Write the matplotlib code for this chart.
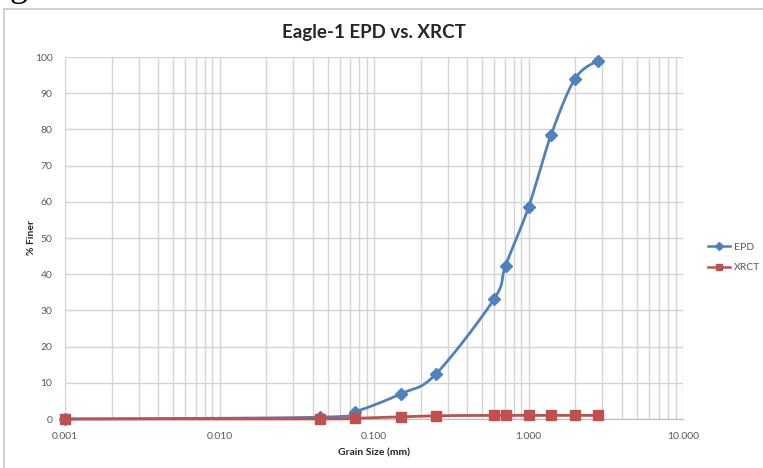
import numpy as np
import matplotlib
matplotlib.use("Agg")
import matplotlib.pyplot as plt
from matplotlib.patches import Rectangle
from matplotlib.lines import Line2D

plt.rcParams['font.family'] = ['Lato', 'DejaVu Sans']

# Sieve sizes (mm) and percent finer
grain_size = [0.001, 0.045, 0.075, 0.15, 0.25, 0.6, 0.71, 1.0, 1.4, 2.0, 2.8]
epd = [0.0, 0.5, 2.0, 7.0, 12.3, 33.2, 42.4, 58.5, 78.5, 94.0, 99.0]
xrct = [0.0, 0.0, 0.2, 0.6, 0.9, 1.0, 1.0, 1.0, 1.0, 1.0, 1.0]

x_ticks = [0.001, 0.01, 0.1, 1, 10]
x_tick_labels = ["0.001", "0.010", "0.100", "1.000", "10.000"]
y_ticks = list(range(0, 101, 10))

blue = "#4F81BD"
red = "#C0504D"
grid_c = "#D4D4D4"
text_c = "#595959"

fig = plt.figure(figsize=(7.63, 4.68), dpi=100)
ax = fig.add_axes([0.0852, 0.1047, 0.8100, 0.7735])

# outer chart frame
fig.patches.append(Rectangle((4 / 763, -0.05), 1.2, (468 - 9) / 468 + 0.05,
                             transform=fig.transFigure, fill=False,
                             edgecolor="#C8C8C8", linewidth=1.2))
fig.text(0.012, 1.0 + 4 / 468, "g", fontsize=26, family="Liberation Serif",
         ha="left", va="baseline", color="black")

ax.set_xscale("log")
ax.set_xlim(0.001, 10)
ax.set_ylim(0, 100)
ax.set_xticks(x_ticks)
ax.set_xticklabels(x_tick_labels)
ax.set_yticks(y_ticks)
ax.tick_params(axis="both", length=0, labelsize=7.5, colors=text_c)
ax.tick_params(axis="y", pad=9)
ax.tick_params(axis="x", pad=9)
ax.tick_params(axis="x", which="minor", length=0)
ax.xaxis.set_minor_locator(matplotlib.ticker.LogLocator(base=10, subs=np.arange(2, 10)))
ax.xaxis.set_minor_formatter(matplotlib.ticker.NullFormatter())
ax.grid(True, which="major", axis="both", color=grid_c, linewidth=1.0)
ax.grid(True, which="minor", axis="x", color=grid_c, linewidth=1.0)
ax.set_axisbelow(True)
for s in ["top", "right"]:
    ax.spines[s].set_visible(False)
ax.spines["left"].set_color(grid_c)
ax.spines["bottom"].set_color("#BFBFBF")

fig.canvas.draw()


def smooth(xs, ys, n=30):
    """Excel-style smoothed line: cubic Bezier segments in display space."""
    pts = ax.transData.transform(np.column_stack([xs, ys]))
    out = [pts[0]]
    m = len(pts)
    for i in range(m - 1):
        p0 = pts[i - 1] if i > 0 else pts[i]
        p1 = pts[i]
        p2 = pts[i + 1]
        p3 = pts[i + 2] if i + 2 < m else pts[i + 1]
        c1 = p1 + (p2 - p0) / 6.0
        c2 = p2 - (p3 - p1) / 6.0
        t = np.linspace(0, 1, n)[1:, None]
        seg = ((1 - t) ** 3) * p1 + 3 * ((1 - t) ** 2) * t * c1 + 3 * (1 - t) * t ** 2 * c2 + t ** 3 * p2
        out.extend(seg)
    out = np.array(out)
    data = ax.transData.inverted().transform(out)
    return data[:, 0], data[:, 1]


sx, sy = smooth(grain_size, epd)
ax.plot(sx, sy, color=blue, linewidth=2.0, zorder=3, clip_on=False)
ax.plot(grain_size, epd, linestyle="none", marker="D", markersize=6,
        color=blue, zorder=4, clip_on=False)
rx, ry = smooth(grain_size, xrct)
ax.plot(rx, ry, color=red, linewidth=2.0, zorder=5, clip_on=False)
ax.plot(grain_size, xrct, linestyle="none", marker="s", markersize=7,
        color=red, zorder=6, clip_on=False)

ax.set_title("Eagle-1 EPD vs. XRCT", fontsize=13.5, fontweight="bold",
             color="#262626", pad=14)
ax.set_xlabel("Grain Size (mm)", fontsize=7.5, fontweight="bold", color="#262626", labelpad=6)
ax.set_ylabel("% Finer", fontsize=7.5, fontweight="bold", color="#262626")
ax.yaxis.set_label_coords(-0.047, 0.5)

handles = [
    Line2D([], [], color=blue, marker="D", markersize=4, linewidth=1.8),
    Line2D([], [], color=red, marker="s", markersize=4.5, linewidth=1.8),
]
fig.legend(handles, ["EPD", "XRCT"], loc="center left",
           bbox_to_anchor=(0.915, 0.45), frameon=False, fontsize=7.5,
           handlelength=2.2, handletextpad=0.3, labelspacing=1.1,
           labelcolor=text_c)

fig.savefig("out.png", dpi=100)
